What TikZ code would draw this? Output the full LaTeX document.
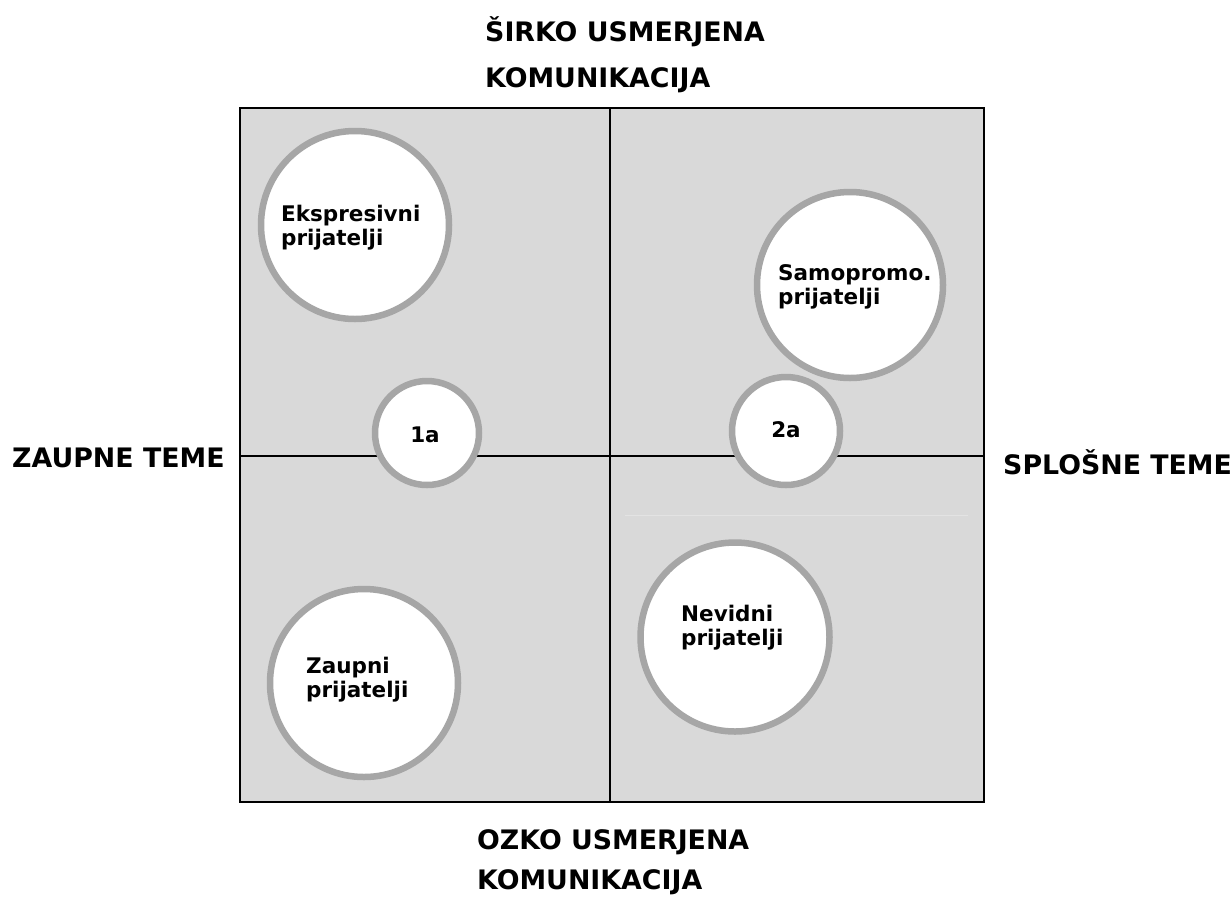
\documentclass[tikz,border=0pt]{standalone}
\usepackage{fontspec}
\setmainfont{DejaVu Sans}
\usetikzlibrary{positioning}

\definecolor{quadgray}{HTML}{D9D9D9}
\definecolor{ringgray}{HTML}{A6A6A6}
\definecolor{faintgray}{HTML}{E3E3E3}

\begin{document}
\begin{tikzpicture}[x=1pt, y=-1pt,
  bubble/.style={circle, draw=ringgray, line width=6.5pt, fill=white, inner sep=0pt},
  bubtext/.style={anchor=west, align=left, inner sep=0pt, font=\fontsize{21.5}{24}\selectfont\bfseries},
  axislabel/.style={anchor=west, inner sep=0pt, font=\fontsize{26.8}{30}\selectfont\bfseries}]

\useasboundingbox (0,0) rectangle (1231,898);

% Define corners of the matrix
\coordinate (NW) at (240,108);
\coordinate (SE) at (984,802);
\coordinate (C) at (610,456);

% Draw the four quadrants
\fill[quadgray] (NW) rectangle (SE);
\draw[faintgray, line width=1pt] (625,515) -- (968,515);
\draw[line width=2pt] (NW) rectangle (SE);
\draw[line width=2pt] (NW -| C) -- (SE -| C);
\draw[line width=2pt] (NW |- C) -- (SE |- C);

% Bubbles
\node[bubble, minimum size=188pt] (ekspr) at (355,225) {};
\node[bubble, minimum size=186pt] (samo) at (850,285) {};
\node[bubble, minimum size=189pt] (nevid) at (735,637) {};
\node[bubble, minimum size=188pt] (zaup) at (364,683) {};
\node[bubble, minimum size=104pt] (ena) at (427,433) {};
\node[bubble, minimum size=108pt] (dva) at (786,431) {};

% Bubble labels
\node[bubtext] (ekspr-t) at (281,228) {Ekspresivni\\prijatelji};
\node[bubtext] (samo-t) at (778,287) {Samopromo.\\prijatelji};
\node[bubtext] (nevid-t) at (681,628) {Nevidni\\prijatelji};
\node[bubtext] (zaup-t) at (306,680) {Zaupni\\prijatelji};
\node[bubtext, anchor=center] (ena-t) at (425,435) {1a};
\node[bubtext, anchor=center] (dva-t) at (786,430) {2a};

% Axis labels
\node[axislabel] (top1) at (485,32) {ŠIRKO USMERJENA};
\node[axislabel] (top2) at (485,80) {KOMUNIKACIJA};
\node[axislabel] (bot1) at (477,842) {OZKO USMERJENA};
\node[axislabel] (bot2) at (477,882) {KOMUNIKACIJA};
\node[axislabel] (left) at (12,458) {ZAUPNE TEME};
\node[axislabel] (right) at (1003,462) {SPLOŠNE TEME};

\end{tikzpicture}
\end{document}
